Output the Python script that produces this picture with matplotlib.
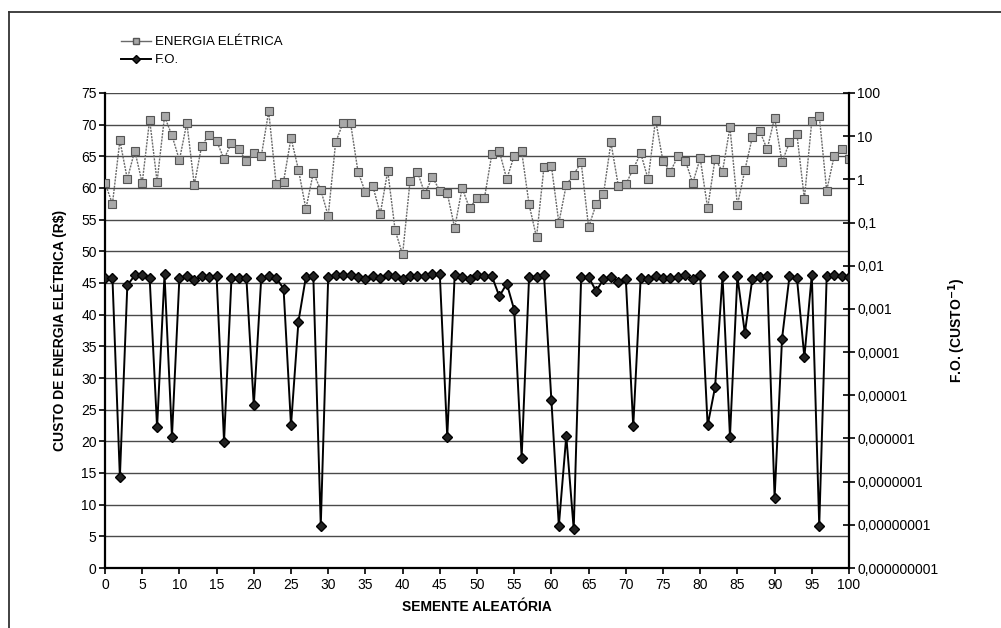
import matplotlib
matplotlib.use('Agg')
from matplotlib import pyplot as plt
from matplotlib.lines import Line2D

plt.rcParams['font.family'] = ['Liberation Sans', 'DejaVu Sans']

seeds = list(range(0, 101))

energia = [60.8, 57.5, 67.5, 61.4, 65.9, 60.8, 70.8, 61.0, 71.3, 68.3,
           64.4, 70.3, 60.5, 66.7, 68.4, 67.4, 64.6, 67.1, 66.1, 64.2,
           65.5, 65.0, 72.1, 60.7, 61.0, 67.9, 62.9, 56.7, 62.4, 59.7,
           55.6, 67.2, 70.3, 70.3, 62.6, 59.3, 60.3, 55.9, 62.7, 53.3,
           49.5, 61.1, 62.5, 59.1, 61.7, 59.6, 59.2, 53.7, 60.0, 56.8,
           58.4, 58.4, 65.4, 65.8, 61.4, 65.1, 65.8, 57.4, 52.2, 63.3,
           63.5, 54.5, 60.5, 62.1, 64.1, 53.8, 57.4, 59.0, 67.2, 60.3,
           60.6, 63.0, 65.5, 61.4, 70.8, 64.2, 62.6, 65.0, 64.3, 60.8,
           64.7, 56.8, 64.6, 62.6, 69.6, 57.3, 62.8, 68.0, 69.0, 66.1,
           71.1, 64.1, 67.2, 68.5, 58.3, 70.6, 71.4, 59.6, 65.0, 66.1,
           64.6]

fo = [5.25e-3, 5.25e-3, 1.26e-7, 3.5e-3, 6.0e-3, 6.0e-3, 5.25e-3, 1.8e-6, 6.3e-3, 1.1e-6,
      5.25e-3, 5.7e-3, 4.6e-3, 5.75e-3, 5.5e-3, 5.7e-3, 8.5e-7, 5.25e-3, 5.25e-3, 5.25e-3,
      5.8e-6, 5.25e-3, 5.75e-3, 5.25e-3, 2.95e-3, 2.0e-6, 5.1e-4, 5.5e-3, 5.75e-3, 9.5e-9,
      5.5e-3, 6.0e-3, 6.0e-3, 6.0e-3, 5.5e-3, 4.8e-3, 5.75e-3, 5.2e-3, 6.0e-3, 5.75e-3,
      4.8e-3, 5.75e-3, 5.75e-3, 5.75e-3, 6.3e-3, 6.3e-3, 1.1e-6, 6.0e-3, 5.5e-3, 5.0e-3,
      6.2e-3, 5.75e-3, 5.75e-3, 1.95e-3, 3.85e-3, 9.5e-4, 3.6e-7, 5.5e-3, 5.5e-3, 6.2e-3,
      7.6e-6, 9.5e-9, 1.15e-6, 7.9e-9, 5.5e-3, 5.5e-3, 2.6e-3, 4.8e-3, 5.5e-3, 4.2e-3,
      5.0e-3, 1.9e-6, 5.25e-3, 4.8e-3, 5.75e-3, 5.25e-3, 5.25e-3, 5.5e-3, 6.0e-3, 4.8e-3,
      6.0e-3, 2.0e-6, 1.55e-5, 5.75e-3, 1.1e-6, 5.7e-3, 2.75e-4, 4.9e-3, 5.5e-3, 5.7e-3,
      4.2e-8, 2.05e-4, 5.7e-3, 5.25e-3, 7.6e-5, 6.2e-3, 9.5e-9, 5.7e-3, 6.2e-3, 5.75e-3,
      5.5e-3]

left_ticks = list(range(0, 80, 5))
x_ticks = list(range(0, 105, 5))
right_ticks = [1e2, 1e1, 1, 1e-1, 1e-2, 1e-3, 1e-4, 1e-5, 1e-6, 1e-7, 1e-8, 1e-9]
right_labels = ['100', '10', '1', '0,1', '0,01', '0,001', '0,0001', '0,00001',
                '0,000001', '0,0000001', '0,00000001', '0,000000001']

fig = plt.figure(figsize=(10.01, 6.28), dpi=100)
ax = fig.add_axes([105 / 1001, 1 - 568 / 628, (849 - 105) / 1001, (568 - 93) / 628])
ax2 = ax.twinx()

# energy cost on the left axis
ax.plot(seeds, energia, color='#6a6a6a', lw=1.0, ls=(0, (1.5, 0.8)),
        marker='s', ms=6, mfc='#a8a8a8', mec='#555555', mew=0.8, zorder=3)
ax.set_xlim(0, 100)
ax.set_ylim(0, 75)
ax.set_xticks(x_ticks)
ax.set_yticks(left_ticks)
for v in left_ticks[1:]:
    ax.axhline(v, color='#4a4a4a', lw=1.0, zorder=1)
ax.tick_params(axis='both', direction='out', length=4, width=1.2, labelsize=10, pad=3)
ax.tick_params(axis='y', pad=2)
for s in ['left', 'bottom']:
    ax.spines[s].set_linewidth(1.6)
ax.spines['top'].set_visible(False)
ax.spines['right'].set_visible(False)
ax.set_xlabel('SEMENTE ALEATÓRIA', fontsize=10, fontweight='bold', labelpad=6)
ax.set_ylabel('CUSTO DE ENERGIA ELÉTRICA (R$)', fontsize=10, fontweight='bold', labelpad=10)

# objective function on the right (log) axis
ax2.plot(seeds, fo, color='black', lw=1.4, marker='D', ms=5, mfc='#222222', mec='black', zorder=4)
ax2.set_yscale('log')
ax2.set_ylim(1e-9, 100)
ax2.set_yticks(right_ticks)
ax2.set_yticklabels(right_labels)
ax2.minorticks_off()
ax2.tick_params(axis='y', direction='inout', length=8, width=1.2, labelsize=10, pad=2)
ax2.spines['right'].set_linewidth(1.6)
for s in ['top', 'left', 'bottom']:
    ax2.spines[s].set_visible(False)
ax2.set_ylabel(r'F.O. (CUSTO$^{\mathbf{-1}}$)', fontsize=10, fontweight='bold', labelpad=6)

# legend above the plot area
h1 = Line2D([], [], color='#6a6a6a', lw=1.0, marker='s', ms=5, mfc='#a8a8a8', mec='#555555')
h2 = Line2D([], [], color='black', lw=1.4, marker='D', ms=4, mfc='#222222', mec='black')
fig.legend([h1, h2], ['ENERGIA ELÉTRICA', 'F.O.'], loc='upper left',
           bbox_to_anchor=(121 / 1001, 1 - 36 / 628), frameon=False, fontsize=9.5,
           handlelength=2.3, handletextpad=0.25, labelspacing=0.45,
           borderpad=0, borderaxespad=0, numpoints=1)

# outer frame
fig.add_artist(Line2D([9 / 1001, 9 / 1001], [0, 1 - 12 / 628], color='#333333', lw=1.3,
                      transform=fig.transFigure))
fig.add_artist(Line2D([9 / 1001, 1], [1 - 12 / 628, 1 - 12 / 628], color='#333333', lw=1.3,
                      transform=fig.transFigure))

fig.savefig('out.png', dpi=100)
